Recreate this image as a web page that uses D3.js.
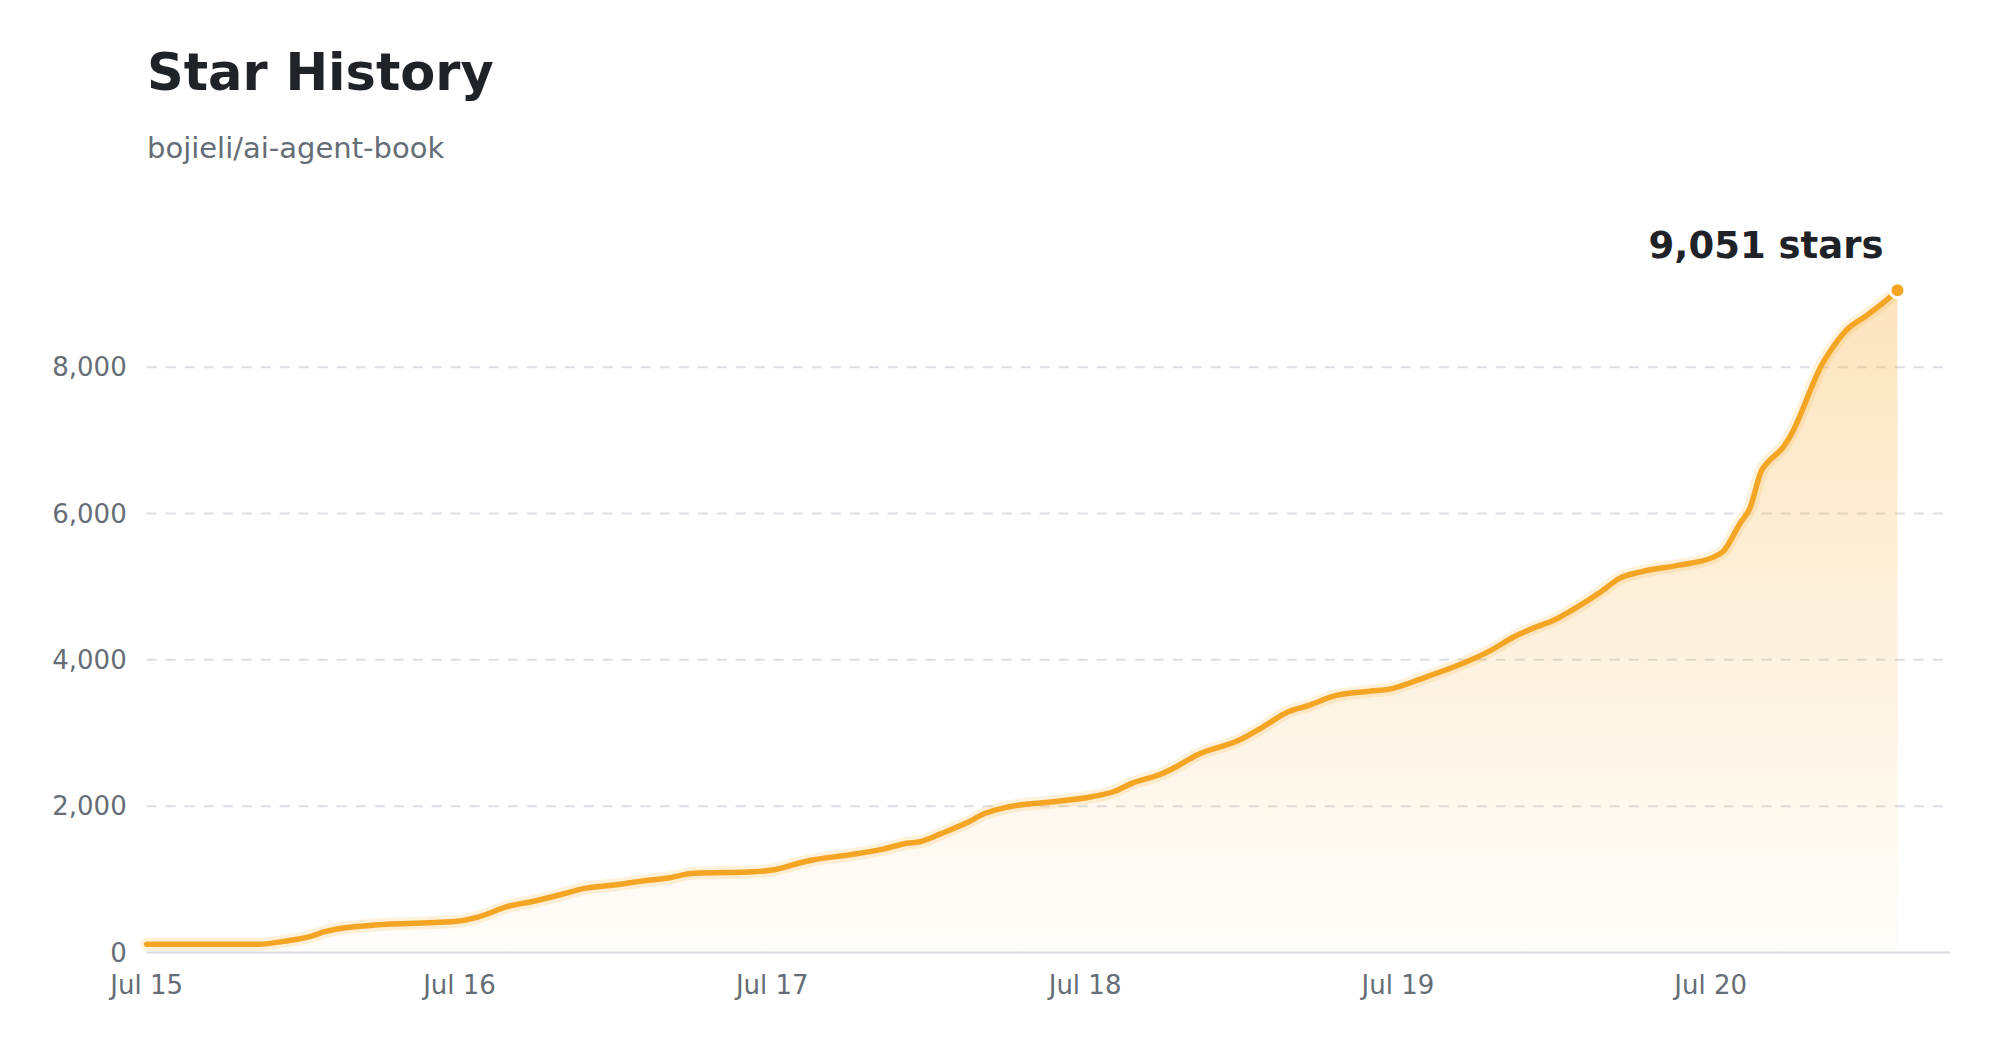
<!DOCTYPE html>
<html>
<head>
<meta charset="utf-8">
<script src="https://cdn.jsdelivr.net/npm/d3@7"></script>
<style>
  html, body { margin: 0; padding: 0; background: #ffffff; }
  svg { display: block; font-family: "DejaVu Sans", sans-serif; }
</style>
</head>
<body>
<svg id="chart" width="2000" height="1048"></svg>
<script>
// ---- data ----
const titleText = "Star History";
const subtitleText = "bojieli/ai-agent-book";
const timestamps = [
  "2025-07-15T00:00","2025-07-15T08:30","2025-07-15T10:50","2025-07-15T12:40","2025-07-15T13:40","2025-07-15T16:35",
  "2025-07-15T17:30","2025-07-16T00:00","2025-07-16T01:20","2025-07-16T03:50","2025-07-16T05:30","2025-07-16T07:40",
  "2025-07-16T09:35","2025-07-16T11:50","2025-07-16T14:10","2025-07-16T15:50","2025-07-16T18:00","2025-07-16T22:35",
  "2025-07-17T00:00","2025-07-17T02:10","2025-07-17T03:05","2025-07-17T05:50","2025-07-17T08:25","2025-07-17T10:20",
  "2025-07-17T11:20","2025-07-17T13:00","2025-07-17T15:05","2025-07-17T16:20","2025-07-17T18:10","2025-07-17T21:35",
  "2025-07-18T00:30","2025-07-18T02:10","2025-07-18T03:35","2025-07-18T05:50","2025-07-18T07:00","2025-07-18T08:35",
  "2025-07-18T11:50","2025-07-18T13:40","2025-07-18T15:35","2025-07-18T17:15","2025-07-18T19:00","2025-07-18T21:50",
  "2025-07-18T23:20","2025-07-19T01:10","2025-07-19T02:35","2025-07-19T04:20","2025-07-19T07:10","2025-07-19T08:55",
  "2025-07-19T10:20","2025-07-19T12:00","2025-07-19T13:10","2025-07-19T15:35","2025-07-19T17:00","2025-07-19T18:40",
  "2025-07-19T21:35","2025-07-20T00:10","2025-07-20T01:00","2025-07-20T02:15","2025-07-20T03:00","2025-07-20T03:55",
  "2025-07-20T04:25","2025-07-20T05:35","2025-07-20T06:05","2025-07-20T08:35","2025-07-20T09:40","2025-07-20T10:25",
  "2025-07-20T12:00","2025-07-20T13:38","2025-07-20T14:20"
];
const stars = [
  112, 112, 161, 225, 284, 362,
  376, 430, 481, 635, 694, 786,
  877, 922, 981, 1014, 1082, 1104,
  1127, 1227, 1264, 1332, 1410, 1492,
  1514, 1628, 1787, 1902, 1992, 2060,
  2129, 2197, 2312, 2439, 2539, 2699,
  2903, 3085, 3290, 3382, 3500, 3570,
  3600, 3700, 3792, 3905, 4133, 4315,
  4430, 4543, 4657, 4930, 5113, 5203,
  5294, 5400, 5490, 5864, 6069, 6593,
  6706, 6911, 7048, 8050, 8346, 8506,
  8710, 8938, 9051
];
const yTickValues = [0, 2000, 4000, 6000, 8000];
const xTickFormat = "%b %d";

// ---- layout ----
const plotLeft = 146.7, plotRight = 1950, plotBottom = 952.5, plotTop = 224;
const orange = "#f5a524";
const textDark = "#1f2328";
const textGray = "#656d76";

const parse = d3.timeParse("%Y-%m-%dT%H:%M");
const data = timestamps.map((t, i) => ({ date: parse(t), value: stars[i] }));
const first = data[0].date, last = data[data.length - 1].date;
const pad = (last - first) * 0.03;
const maxVal = d3.max(data, d => d.value);

const x = d3.scaleTime().domain([first, new Date(+last + pad)]).range([plotLeft, plotRight]);
const y = d3.scaleLinear().domain([0, maxVal * 1.1]).range([plotBottom, plotTop]);

const svg = d3.select("#chart");

// gradient
const defs = svg.append("defs");
const grad = defs.append("linearGradient")
  .attr("id", "areaGrad").attr("gradientUnits", "userSpaceOnUse")
  .attr("x1", 0).attr("x2", 0).attr("y1", y(maxVal)).attr("y2", y(0));
grad.append("stop").attr("offset", "0%").attr("stop-color", orange).attr("stop-opacity", 0.3);
grad.append("stop").attr("offset", "100%").attr("stop-color", orange).attr("stop-opacity", 0.02);

// title
svg.append("text").attr("x", 147).attr("y", 90)
  .attr("font-size", 51).attr("font-weight", "bold").attr("fill", textDark)
  .text(titleText);
svg.append("text").attr("x", 147).attr("y", 158)
  .attr("font-size", 29).attr("fill", textGray)
  .text(subtitleText);

// grid
const gridTicks = yTickValues.filter(v => v > 0);
svg.append("g").selectAll("line").data(gridTicks).join("line")
  .attr("x1", plotLeft).attr("x2", plotRight)
  .attr("y1", d => y(d)).attr("y2", d => y(d))
  .attr("stroke", "#dcdfe4").attr("stroke-width", 2)
  .attr("stroke-dasharray", "10 9");

// y labels
svg.append("g").selectAll("text").data(yTickValues).join("text")
  .attr("x", plotLeft - 20).attr("y", d => y(d))
  .attr("dy", "0.35em").attr("text-anchor", "end")
  .attr("font-size", 26).attr("fill", textGray)
  .text(d => d3.format(",")(d));

// area
const area = d3.area().curve(d3.curveMonotoneX)
  .x(d => x(d.date)).y0(y(0)).y1(d => y(d.value));
svg.append("path").datum(data).attr("d", area).attr("fill", "url(#areaGrad)");

// x axis line
svg.append("line").attr("x1", plotLeft).attr("x2", plotRight)
  .attr("y1", plotBottom).attr("y2", plotBottom)
  .attr("stroke", "#d8dce1").attr("stroke-width", 2);

// x labels
const fmt = d3.timeFormat(xTickFormat);
svg.append("g").selectAll("text").data(x.ticks(d3.timeDay.every(1))).join("text")
  .attr("x", d => x(d)).attr("y", plotBottom + 41)
  .attr("text-anchor", "middle")
  .attr("font-size", 26).attr("fill", textGray)
  .text(d => fmt(d));

// line glow + line
const line = d3.line().curve(d3.curveMonotoneX)
  .x(d => x(d.date)).y(d => y(d.value));
svg.append("path").datum(data).attr("d", line)
  .attr("fill", "none").attr("stroke", orange).attr("stroke-opacity", 0.16)
  .attr("stroke-width", 13).attr("stroke-linejoin", "round").attr("stroke-linecap", "round");
svg.append("path").datum(data).attr("d", line)
  .attr("fill", "none").attr("stroke", orange)
  .attr("stroke-width", 5.5).attr("stroke-linejoin", "round").attr("stroke-linecap", "round");

// end point
const lastD = data[data.length - 1];
svg.append("circle").attr("cx", x(lastD.date)).attr("cy", y(lastD.value))
  .attr("r", 7.5).attr("fill", orange).attr("stroke", "#ffffff").attr("stroke-width", 3);
svg.append("text")
  .attr("x", x(lastD.date) - 14).attr("y", y(lastD.value) - 32)
  .attr("text-anchor", "end").attr("font-size", 37).attr("font-weight", "bold")
  .attr("fill", textDark)
  .text(d3.format(",")(lastD.value) + " stars");
</script>
</body>
</html>
